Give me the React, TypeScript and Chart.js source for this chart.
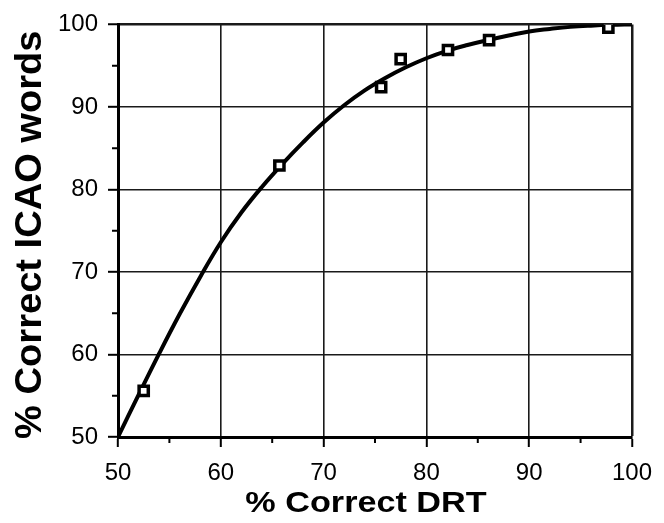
import React, { useEffect, useRef } from 'react';
import { Chart, registerables } from 'chart.js';

Chart.register(...registerables);

const FONT = '"Liberation Sans", Arial, Helvetica, sans-serif';

// Fitted curve
const curveX = [50, 52, 54, 56, 58, 60, 62, 64, 66, 68, 70, 72, 74, 76, 78, 80, 82, 84, 86, 88, 90, 92, 94, 96, 98, 100];
const curveY = [50, 55.1, 60.1, 64.9, 69.4, 73.6, 77.2, 80.3, 83.1, 85.7, 88.1, 90.2, 92.0, 93.5, 94.8, 95.9, 96.8, 97.5, 98.1, 98.65, 99.15, 99.45, 99.7, 99.85, 99.95, 100];

// Observed points
const obsX = [52.5, 65.7, 75.6, 77.5, 82.1, 86.1, 97.7];
const obsY = [55.6, 82.9, 92.4, 95.8, 96.9, 98.1, 99.6];

// Axis ticks
const xTicks = [50, 60, 70, 80, 90, 100];
const yTicks = [50, 60, 70, 80, 90, 100];
const xMinor = [55, 65, 75, 85, 95];
const yMinor = [55, 65, 75, 85, 95];

const xTitle = '% Correct DRT';
const yTitle = '% Correct ICAO words';

const decorPlugin = {
  id: 'decor',
  afterDraw(chart: any) {
    const { ctx, chartArea, scales } = chart;
    const { left, right, top, bottom } = chartArea;
    const xs = scales.x;
    const ys = scales.y;
    ctx.save();
    ctx.strokeStyle = '#000';
    ctx.lineWidth = 2;
    ctx.beginPath();
    xMinor.forEach((v) => {
      const px = xs.getPixelForValue(v);
      ctx.moveTo(px, bottom);
      ctx.lineTo(px, bottom + 6);
    });
    yMinor.forEach((v) => {
      const py = ys.getPixelForValue(v);
      ctx.moveTo(left, py);
      ctx.lineTo(left - 6, py);
    });
    ctx.stroke();

    ctx.fillStyle = '#000';
    ctx.textAlign = 'center';
    ctx.textBaseline = 'alphabetic';
    ctx.font = `bold 30px ${FONT}`;
    // x title
    ctx.save();
    ctx.translate((left + right) / 2 - 9, bottom + 75);
    ctx.scale(1.14, 1);
    ctx.fillText(xTitle, 0, 0);
    ctx.restore();
    // y title
    ctx.save();
    ctx.translate(41, (top + bottom) / 2 + 4);
    ctx.rotate(-Math.PI / 2);
    ctx.font = `bold 34px ${FONT}`;
    ctx.scale(1.12, 1.07);
    ctx.fillText(yTitle, 0, 0);
    ctx.restore();
    ctx.restore();
  },
};

export default function App() {
  const canvasRef = useRef<HTMLCanvasElement | null>(null);

  useEffect(() => {
    if (!canvasRef.current) return;
    const curve = curveX.map((x, i) => ({ x, y: curveY[i] }));
    const obs = obsX.map((x, i) => ({ x, y: obsY[i] }));
    const gridWidth = (c: any) => (c.tick && c.tick.value === 100 ? 2.5 : 1.6);
    const chart = new Chart(canvasRef.current, {
      type: 'scatter',
      data: {
        datasets: [
          {
            data: obs,
            pointStyle: 'rect',
            pointRadius: 6.5,
            pointBorderWidth: 3.5,
            borderColor: '#000',
            backgroundColor: '#fff',
            order: 0,
          } as any,
          {
            type: 'line',
            data: curve,
            borderColor: '#000',
            borderWidth: 4,
            pointRadius: 0,
            tension: 0.4,
            fill: false,
            order: 1,
          } as any,
        ],
      },
      options: {
        animation: false,
        responsive: true,
        maintainAspectRatio: false,
        layout: { padding: { top: 19, right: 22, left: 0, bottom: 0 } },
        plugins: { legend: { display: false }, tooltip: { enabled: false } },
        scales: {
          x: {
            type: 'linear',
            min: 50,
            max: 100,
            afterBuildTicks: (s: any) => {
              s.ticks = xTicks.map((value) => ({ value }));
            },
            afterFit: (s: any) => {
              s.height = 86;
            },
            ticks: { font: { size: 24, family: FONT }, color: '#000', padding: 12, maxRotation: 0 },
            grid: { color: '#1a1a1a', lineWidth: gridWidth, tickColor: '#000', tickLength: 10, tickWidth: 2 },
            border: { color: '#000', width: 3 },
          },
          y: {
            type: 'linear',
            min: 50,
            max: 100,
            afterBuildTicks: (s: any) => {
              s.ticks = yTicks.map((value) => ({ value }));
            },
            afterFit: (s: any) => {
              s.width = 118;
            },
            ticks: { font: { size: 24, family: FONT }, color: '#000', padding: 10 },
            grid: { color: '#1a1a1a', lineWidth: gridWidth, tickColor: '#000', tickLength: 10, tickWidth: 2 },
            border: { color: '#000', width: 3 },
          },
        },
      },
      plugins: [decorPlugin],
    });
    return () => chart.destroy();
  }, []);

  return (
    <div style={{ position: 'fixed', left: 0, top: 0, width: 664, height: 523, background: '#fff' }}>
      <canvas ref={canvasRef} />
    </div>
  );
}
